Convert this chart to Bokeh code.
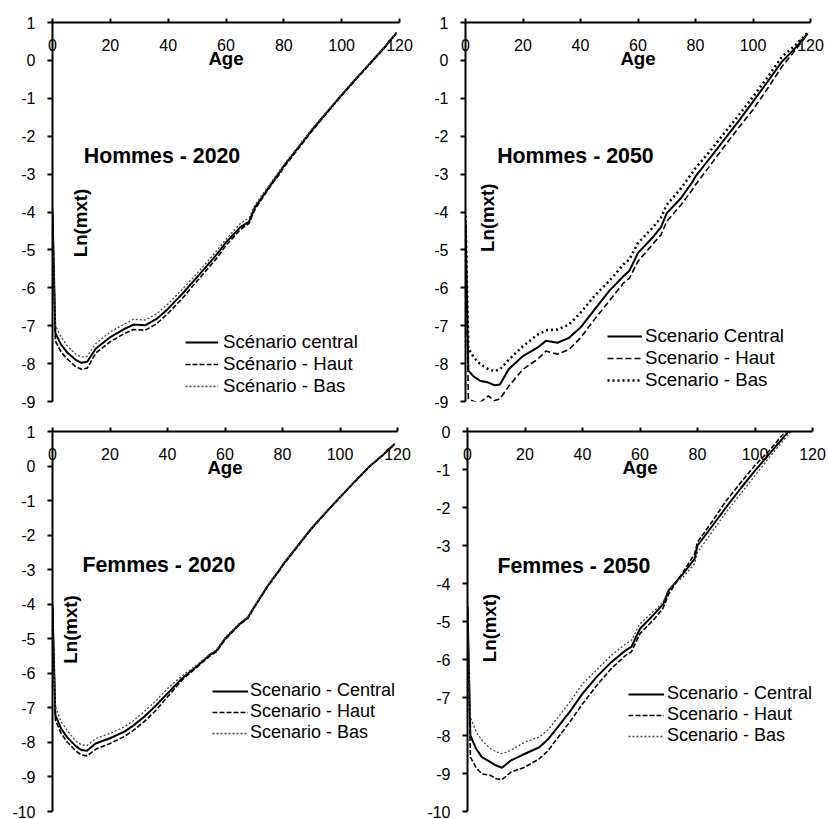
import math
from bokeh.plotting import figure
from bokeh.models import Range1d, FixedTicker, Legend, LegendItem, Label
from bokeh.layouts import column, row
from bokeh.embed import file_html
from bokeh.resources import INLINE

FONT = "Liberation Sans"

AGES = [0, 1, 3, 5, 8, 10, 12, 15, 20, 25, 28, 32, 36, 40, 45, 50, 55, 57, 60,
        65, 68, 70, 75, 79, 80, 85, 90, 95, 100, 105, 110, 115, 119]

X_TICKS = [0, 20, 40, 60, 80, 100, 120]

# Hommes - 2020
H2020_CENTRAL = [-4.0, -7.2, -7.5, -7.7, -7.9, -7.98, -7.95, -7.6, -7.3, -7.08, -6.97, -6.99, -6.82, -6.55,
                 -6.15, -5.72, -5.28, -5.1, -4.8, -4.4, -4.25, -3.88, -3.33, -2.9, -2.78, -2.3, -1.81,
                 -1.36, -0.91, -0.48, -0.06, 0.36, 0.73]
H2020_HAUT = [-3.9, -7.4, -7.7, -7.87, -8.08, -8.15, -8.12, -7.72, -7.42, -7.2, -7.1, -7.12, -6.95, -6.67,
              -6.27, -5.82, -5.38, -5.2, -4.88, -4.46, -4.3, -3.93, -3.36, -2.95, -2.82, -2.33, -1.84,
              -1.38, -0.93, -0.5, -0.08, 0.35, 0.72]
H2020_BAS = [-4.1, -7.0, -7.3, -7.52, -7.75, -7.83, -7.8, -7.47, -7.16, -6.95, -6.83, -6.85, -6.69, -6.42,
             -6.03, -5.62, -5.18, -5.0, -4.72, -4.3, -4.15, -3.82, -3.28, -2.86, -2.75, -2.27, -1.78,
             -1.34, -0.89, -0.46, -0.04, 0.37, 0.74]

# Hommes - 2050
H2050_CENTRAL = [-4.3, -8.19, -8.35, -8.45, -8.5, -8.57, -8.55, -8.15, -7.8, -7.58, -7.4, -7.45, -7.32, -7.05,
                 -6.56, -6.08, -5.69, -5.55, -5.08, -4.68, -4.4, -4.03, -3.63, -3.2, -3.06, -2.58, -2.09,
                 -1.6, -1.09, -0.57, -0.04, 0.35, 0.71]
H2050_HAUT = [-4.5, -8.93, -9.0, -9.03, -8.85, -8.98, -8.93, -8.6, -8.15, -7.89, -7.67, -7.75, -7.63, -7.32,
              -6.82, -6.35, -5.87, -5.75, -5.3, -4.86, -4.6, -4.25, -3.81, -3.4, -3.28, -2.78, -2.27,
              -1.78, -1.3, -0.75, -0.17, 0.3, 0.69]
H2050_BAS = [-4.1, -7.6, -7.85, -8.0, -8.15, -8.2, -8.15, -7.9, -7.54, -7.24, -7.12, -7.1, -6.97, -6.66,
             -6.2, -5.82, -5.38, -5.25, -4.82, -4.42, -4.15, -3.81, -3.37, -2.95, -2.84, -2.4, -1.92,
             -1.45, -0.96, -0.45, 0.09, 0.42, 0.73]

# Femmes - 2020
F2020_CENTRAL = [-4.1, -7.21, -7.6, -7.84, -8.1, -8.22, -8.24, -8.03, -7.88, -7.69, -7.52, -7.25, -6.93, -6.58,
                 -6.15, -5.81, -5.45, -5.35, -5.0, -4.58, -4.38, -4.1, -3.45, -3.0, -2.87, -2.34, -1.81,
                 -1.35, -0.9, -0.46, -0.03, 0.33, 0.64]
F2020_HAUT = [-4.0, -7.35, -7.74, -7.98, -8.24, -8.36, -8.39, -8.2, -8.03, -7.83, -7.66, -7.39, -7.07, -6.68,
              -6.2, -5.84, -5.48, -5.38, -5.03, -4.6, -4.4, -4.12, -3.47, -3.02, -2.89, -2.36, -1.83,
              -1.36, -0.91, -0.47, -0.04, 0.32, 0.63]
F2020_BAS = [-4.2, -6.97, -7.4, -7.64, -7.95, -8.07, -8.09, -7.89, -7.74, -7.55, -7.38, -7.1, -6.79, -6.44,
             -6.08, -5.77, -5.42, -5.32, -4.97, -4.55, -4.36, -4.08, -3.43, -2.98, -2.85, -2.32, -1.79,
             -1.34, -0.89, -0.45, -0.02, 0.34, 0.65]

# Femmes - 2050
F2050_CENTRAL = [-4.6, -8.0, -8.35, -8.57, -8.7, -8.79, -8.85, -8.66, -8.48, -8.31, -8.1, -7.72, -7.33, -6.9,
                 -6.45, -6.07, -5.76, -5.67, -5.19, -4.8, -4.55, -4.18, -3.74, -3.35, -3.0, -2.5, -1.99,
                 -1.5, -1.03, -0.59, -0.15, 0.3, 0.65]
F2050_HAUT = [-4.7, -8.57, -8.85, -9.01, -9.05, -9.14, -9.16, -8.97, -8.83, -8.61, -8.4, -8.0, -7.6, -7.17,
              -6.68, -6.24, -5.89, -5.8, -5.32, -4.93, -4.65, -4.27, -3.7, -3.22, -2.91, -2.38, -1.82,
              -1.35, -0.89, -0.5, -0.05, 0.35, 0.7]
F2050_BAS = [-4.5, -7.52, -7.9, -8.13, -8.35, -8.43, -8.48, -8.39, -8.17, -8.04, -7.85, -7.47, -7.08, -6.64,
             -6.27, -5.89, -5.59, -5.5, -5.06, -4.71, -4.5, -4.14, -3.83, -3.48, -3.18, -2.65, -2.12,
             -1.64, -1.16, -0.68, -0.22, 0.22, 0.6]

FINE_DOTS = dict(line_dash="2 2", line_width=1.3, line_color="#444444")

PANELS = [
    dict(title="Hommes - 2020", y=(-9, 1), series=(H2020_CENTRAL, H2020_HAUT, H2020_BAS),
         labels=("Scénario central", "Scénario - Haut", "Scénario - Bas"),
         size=(414, 415), borders=(52, 15, 22, 13),
         title_at=(10.8, -2.52), ylab_at=(9.6, -4.29),
         legend=dict(loc=(133, 4), gw=33, gs=5, fs="18.67px"),
         bas_style=FINE_DOTS,
         haut_style=dict(line_dash="5 2", line_width=1.6, line_color="black")),
    dict(title="Hommes - 2050", y=(-9, 1), series=(H2050_CENTRAL, H2050_HAUT, H2050_BAS),
         labels=("Scenario Central", "Scenario - Haut", "Scenario - Bas"),
         size=(414, 415), borders=(51, 18, 21, 14),
         title_at=(11.0, -2.53), ylab_at=(7.8, -4.15),
         legend=dict(loc=(142, 10), gw=35, gs=3, fs="18.67px"),
         bas_style=dict(line_dash="2 3", line_width=2.5, line_color="black"),
         haut_style=dict(line_dash="6 3", line_width=1.6, line_color="black")),
    dict(title="Femmes - 2020", y=(-10, 1), series=(F2020_CENTRAL, F2020_HAUT, F2020_BAS),
         labels=("Scenario - Central", "Scenario - Haut", "Scenario - Bas"),
         size=(414, 404), borders=(52, 17, 14, 8),
         title_at=(10.4, -2.87), ylab_at=(6.4, -4.73),
         legend=dict(loc=(160, 68), gw=36, gs=2, fs="18px"),
         bas_style=FINE_DOTS,
         haut_style=dict(line_dash="5 2", line_width=1.6, line_color="black")),
    dict(title="Femmes - 2050", y=(-10, 0), series=(F2050_CENTRAL, F2050_HAUT, F2050_BAS),
         labels=("Scenario - Central", "Scenario - Haut", "Scenario - Bas"),
         size=(414, 404), borders=(53, 16, 16, 7),
         title_at=(10.4, -3.53), ylab_at=(7.6, -5.17),
         legend=dict(loc=(161, 65), gw=36, gs=3, fs="18px"),
         bas_style=FINE_DOTS,
         haut_style=dict(line_dash="5 2", line_width=1.6, line_color="black")),
]


def make_panel(cfg):
    w, h = cfg["size"]
    bl, br, bt, bb = cfg["borders"]
    y0, y1 = cfg["y"]
    p = figure(width=w, height=h, output_backend="svg", toolbar_location=None,
               x_range=Range1d(0, 120), y_range=Range1d(y0, y1),
               x_axis_location="above",
               min_border_left=bl, min_border_right=br,
               min_border_top=bt, min_border_bottom=bb)
    p.outline_line_color = None
    p.xgrid.visible = False
    p.ygrid.visible = False
    p.background_fill_color = "white"
    p.border_fill_color = "white"

    # x axis (at the top, labels inside the frame)
    xa = p.xaxis[0]
    xa.ticker = FixedTicker(ticks=X_TICKS)
    xa.axis_line_width = 2
    xa.major_tick_line_width = 2
    xa.major_tick_out = 4
    xa.major_tick_in = 0
    xa.minor_tick_line_color = None
    xa.major_label_standoff = -32
    xa.major_label_text_font = FONT
    xa.major_label_text_font_size = "16px"
    xa.major_label_text_color = "black"
    xa.axis_label = "Age"
    xa.axis_label_text_font = FONT
    xa.axis_label_text_font_size = "18.67px"
    xa.axis_label_text_font_style = "bold"
    xa.axis_label_text_color = "black"
    xa.axis_label_standoff = -33

    # y axis
    ya = p.yaxis[0]
    yt = list(range(int(y0), int(y1) + 1))
    ya.ticker = FixedTicker(ticks=yt)
    ya.major_label_overrides = {t: str(t) for t in yt}
    ya.axis_line_width = 2
    ya.major_tick_line_width = 2
    ya.major_tick_out = 5
    ya.major_tick_in = 0
    ya.minor_tick_line_color = None
    ya.major_label_standoff = 12
    ya.major_label_text_font = FONT
    ya.major_label_text_font_size = "16px"
    ya.major_label_text_color = "black"

    central, haut, bas = cfg["series"]
    r_c = p.line(AGES, central, line_color="black", line_width=2)
    r_h = p.line(AGES, haut, **cfg["haut_style"])
    r_b = p.line(AGES, bas, **cfg["bas_style"])

    lg = cfg["legend"]
    legend = Legend(items=[LegendItem(label=cfg["labels"][0], renderers=[r_c]),
                           LegendItem(label=cfg["labels"][1], renderers=[r_h]),
                           LegendItem(label=cfg["labels"][2], renderers=[r_b])],
                    location=lg["loc"], glyph_width=lg["gw"], label_standoff=lg["gs"],
                    spacing=0, padding=0, margin=0,
                    glyph_height=18, label_height=18,
                    border_line_alpha=0, background_fill_alpha=0,
                    label_text_font=FONT, label_text_font_size=lg["fs"],
                    label_text_color="black")
    p.add_layout(legend)

    tx, ty = cfg["title_at"]
    p.add_layout(Label(x=tx, y=ty, text=cfg["title"], text_font=FONT,
                       text_font_size="21.33px", text_font_style="bold",
                       text_color="black", text_align="left", text_baseline="alphabetic"))
    lx, ly = cfg["ylab_at"]
    p.add_layout(Label(x=lx, y=ly, text="Ln(mxt)", angle=math.pi / 2, text_font=FONT,
                       text_font_size="18.67px", text_font_style="bold",
                       text_color="black", text_align="center", text_baseline="middle"))
    return p


figs = [make_panel(c) for c in PANELS]
layout = column(row(figs[0], figs[1]), row(figs[2], figs[3]))

open("out.html", "w").write(file_html(layout, INLINE))
